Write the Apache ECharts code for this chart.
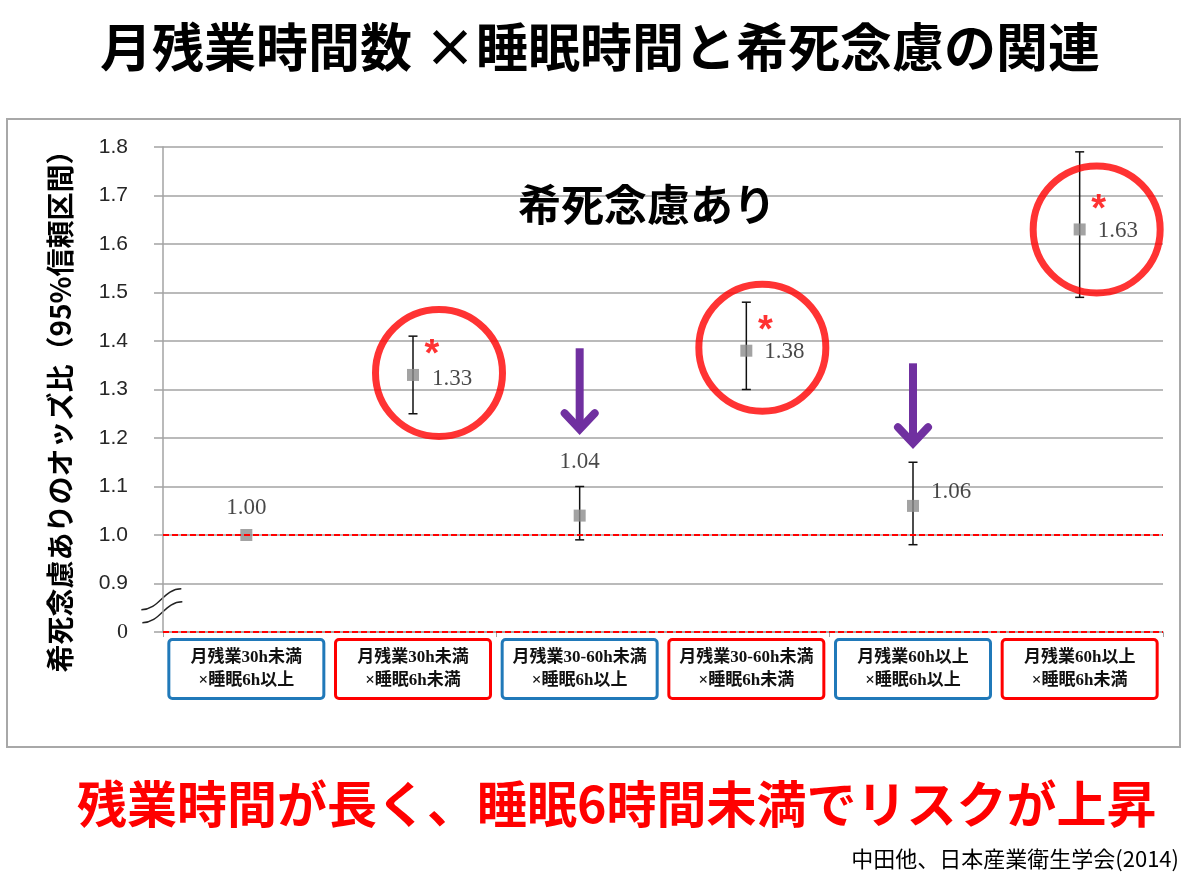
<!DOCTYPE html>
<html><head><meta charset="utf-8">
<script src="https://cdn.jsdelivr.net/npm/echarts@6/dist/echarts.min.js"></script>
<style>html,body{margin:0;padding:0;background:#fff}#c{width:1200px;height:876px}</style>
</head><body><div id="c"></div>
<script>
// ---- data ----
const titleText = '月残業時間数 ×睡眠時間と希死念慮の関連';
const panelTitle = '希死念慮あり';
const conclusion = '残業時間が長く、睡眠6時間未満でリスクが上昇';
const source = '中田他、日本産業衛生学会(2014)';
const yAxisName = '希死念慮ありのオッズ比（95%信頼区間）';
const categories = [
  '月残業30h未満\n×睡眠6h以上',
  '月残業30h未満\n×睡眠6h未満',
  '月残業30-60h未満\n×睡眠6h以上',
  '月残業30-60h未満\n×睡眠6h未満',
  '月残業60h以上\n×睡眠6h以上',
  '月残業60h以上\n×睡眠6h未満'
];
const sleepUnder6 = [false, true, false, true, false, true];
const oddsRatio = [1.00, 1.33, 1.04, 1.38, 1.06, 1.63];
const ciLower  = [null, 1.25, 0.99, 1.30, 0.98, 1.49];
const ciUpper  = [null, 1.41, 1.10, 1.48, 1.15, 1.79];
const significant = [false, true, false, true, false, true];
const arrowIdx = [2, 4];
const arrowFrom = [1.385, 1.354];
const arrowTo = [1.21, 1.181];
const referenceLines = [1.0, 0.8];
const yMin = 0.8, yMax = 1.8, yStep = 0.1;
const yTickLabels = {'0.8': '0', '0.9': '0.9', '1.0': '1.0', '1.1': '1.1', '1.2': '1.2', '1.3': '1.3', '1.4': '1.4', '1.5': '1.5', '1.6': '1.6', '1.7': '1.7', '1.8': '1.8'};

// ---- styles ----
const labelStyle = [
  {position: 'top', distance: 10},
  {position: 'right', distance: 13, offset: [0, 4]},
  {position: 'top', distance: 36},
  {position: 'right', distance: 12, offset: [0, 1]},
  {position: 'right', distance: 12, offset: [0, -14]},
  {position: 'right', distance: 12, offset: [0, 2]}
];
const circleOffset = {1: [26, -2], 3: [16, -3], 5: [17, 0]};
const RED = '#ff0000', BLUE = '#2079b9', PURPLE = '#7030a0', GRID = '#a3a3a3';

const chart = echarts.init(document.getElementById('c'));

function boxLabel(color, showFn) {
  return {
    interval: showFn,
    fontFamily: '"Liberation Serif", "Noto Sans CJK JP"',
    fontWeight: 'bold', fontSize: 17, lineHeight: 23, color: '#111',
    width: 148, align: 'center',
    padding: [5, 2, 5, 2],
    borderColor: color, borderWidth: 3, borderRadius: 2,
    backgroundColor: '#fff',
    margin: 9
  };
}

const errData = [];
ciLower.forEach((lo, i) => { if (lo !== null) errData.push([i, lo, ciUpper[i]]); });
const arrowData = arrowIdx.map((c, k) => [c, arrowFrom[k], arrowTo[k]]);

const option = {
  animation: false,
  backgroundColor: '#fff',
  title: [
    {text: titleText, left: 'center', top: 16,
     textStyle: {fontFamily: '"Noto Sans CJK JP"', fontSize: 52, fontWeight: 'bold', color: '#000'}},
    {text: panelTitle, left: 513, top: 178,
     textStyle: {fontFamily: '"Noto Sans CJK JP"', fontSize: 43, fontWeight: 'bold', color: '#000'}},
    {text: conclusion, left: 72, top: 774,
     textStyle: {fontFamily: '"Noto Sans CJK JP"', fontSize: 50, fontWeight: 'bold', color: RED}},
    {text: source, right: 16, top: 843,
     textStyle: {fontFamily: '"Noto Sans CJK JP"', fontSize: 22, fontWeight: 'normal', color: '#000'}}
  ],
  grid: {left: 163, right: 37, top: 147, bottom: 244, containLabel: false},
  xAxis: [
    {type: 'category', data: categories, boundaryGap: true, position: 'bottom',
     axisLine: {lineStyle: {color: GRID, width: 1.5}},
     axisTick: {show: true, length: 5, lineStyle: {color: GRID}},
     axisLabel: boxLabel(BLUE, (i) => !sleepUnder6[i]),
     splitLine: {show: false}},
    {type: 'category', data: categories, boundaryGap: true, position: 'bottom', gridIndex: 0,
     axisLine: {show: false}, axisTick: {show: false},
     axisLabel: boxLabel(RED, (i) => sleepUnder6[i]),
     splitLine: {show: false}}
  ],
  yAxis: {
    type: 'value', min: yMin, max: yMax, interval: yStep,
    name: yAxisName, nameLocation: 'middle', nameGap: 89,
    nameTextStyle: {fontFamily: '"Noto Sans CJK JP"', fontSize: 28, fontWeight: 'bold', color: '#000', padding: [0, 30, 0, 0]},
    axisLine: {show: true, lineStyle: {color: GRID, width: 1.5}},
    axisTick: {show: true, length: 9, lineStyle: {color: GRID, width: 1.5}},
    splitLine: {lineStyle: {color: GRID, width: 1.5}},
    axisLabel: {
      margin: 35, fontSize: 21, color: '#262626', fontFamily: '"Liberation Sans", Arial',
      formatter: (v) => { const k = v.toFixed(1); const t = yTickLabels[k] || k; return k === '0.8' ? '{z|' + t + '}' : t; },
      rich: {z: {fontFamily: '"Liberation Serif"', fontSize: 22, color: '#262626'}}
    }
  },
  series: [
    {
      type: 'custom', name: 'CI', xAxisIndex: 0, z: 3,
      encode: {x: 0, y: [1, 2]},
      data: errData,
      renderItem: (params, api) => {
        const x = api.value(0);
        const pLo = api.coord([x, api.value(1)]);
        const pHi = api.coord([x, api.value(2)]);
        const w = 4.5, st = {stroke: '#111', lineWidth: 1.5};
        return {type: 'group', children: [
          {type: 'line', shape: {x1: pLo[0], y1: pLo[1], x2: pHi[0], y2: pHi[1]}, style: st},
          {type: 'line', shape: {x1: pLo[0] - w, y1: pLo[1], x2: pLo[0] + w, y2: pLo[1]}, style: st},
          {type: 'line', shape: {x1: pHi[0] - w, y1: pHi[1], x2: pHi[0] + w, y2: pHi[1]}, style: st}
        ]};
      }
    },
    {
      type: 'scatter', name: 'OR', xAxisIndex: 0, z: 4,
      symbol: 'rect', symbolSize: 12,
      itemStyle: {color: '#8c8c8c'},
      data: oddsRatio.map((v, i) => ({
        value: [i, v],
        label: Object.assign({show: true, formatter: v.toFixed(2),
          fontFamily: '"Liberation Serif", "Times New Roman"', fontSize: 23, color: '#1a1a1a'}, labelStyle[i])
      })),
      markLine: {
        silent: true, symbol: 'none',
        label: {show: false},
        lineStyle: {color: RED, type: [6, 3], width: 2},
        data: referenceLines.map(v => ({yAxis: v}))
      }
    },
    {
      type: 'scatter', name: 'circle', xAxisIndex: 0, z: 5, silent: true,
      symbol: 'circle', symbolSize: 127,
      itemStyle: {color: 'rgba(0,0,0,0)', borderColor: RED, borderWidth: 7},
      data: oddsRatio.map((v, i) => significant[i] ? {value: [i, v], symbolOffset: circleOffset[i]} : null).filter(d => d)
    },
    {
      type: 'scatter', name: 'star', xAxisIndex: 0, z: 6, silent: true,
      symbolSize: 0,
      data: oddsRatio.map((v, i) => significant[i] ? {value: [i, v]} : null).filter(d => d),
      label: {show: true, formatter: '*', position: 'inside', offset: [19, -19],
        fontFamily: '"Liberation Sans", Arial', fontWeight: 'bold', fontSize: 38, color: RED}
    },
    {
      type: 'custom', name: 'arrow', xAxisIndex: 0, z: 6, silent: true,
      encode: {x: 0, y: [1, 2]},
      data: arrowData,
      renderItem: (params, api) => {
        const x = api.value(0);
        const top = api.coord([x, api.value(1)]);
        const tip = api.coord([x, api.value(2)]);
        const px = top[0], ty = tip[1];
        return {type: 'group', children: [
          {type: 'line', shape: {x1: px, y1: top[1], x2: px, y2: ty - 5},
           style: {stroke: PURPLE, lineWidth: 8, lineCap: 'butt'}},
          {type: 'polyline', shape: {points: [[px - 15, ty - 20], [px, ty - 4], [px + 15, ty - 20]]},
           style: {stroke: PURPLE, lineWidth: 8, lineCap: 'round', lineJoin: 'miter', fill: null}}
        ]};
      }
    }
  ]
};
chart.setOption(option);

// decorative frame and axis-break mark, positioned from the axis scale
const xl = chart.convertToPixel({xAxisIndex: 0}, 0) - 84;
const yb = chart.convertToPixel({yAxisIndex: 0}, 0.85);
function sCurve(dx, dy) {
  return {type: 'bezierCurve', silent: true,
    shape: {x1: xl - 21 + dx, y1: yb + 2 + dy, x2: xl + 19 + dx, y2: yb - 19 + dy,
            cpx1: xl - 3 + dx, cpy1: yb + 2 + dy, cpx2: xl + 1 + dx, cpy2: yb - 19 + dy},
    style: {stroke: '#222', lineWidth: 1.5, fill: null}};
}
chart.setOption({graphic: [
  {type: 'rect', silent: true, shape: {x: 7, y: 119, width: 1173, height: 628},
   style: {stroke: '#a8a8a8', lineWidth: 2, fill: null}, z: -1},
  sCurve(0, 0), sCurve(1, 13)
]});
</script>
</body></html>
